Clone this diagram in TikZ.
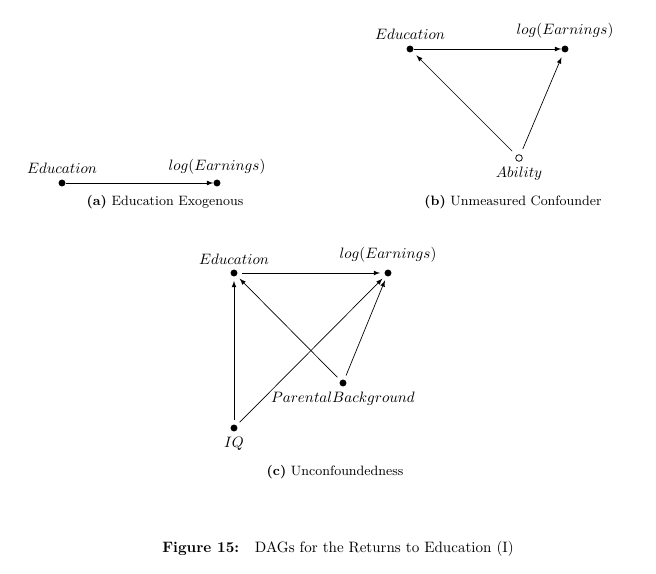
\documentclass[tikz,border=0pt]{standalone}
\usetikzlibrary{arrows}
\begin{document}
\begin{tikzpicture}[x=0.664pt,y=-0.664pt,
  dot/.style={circle,fill=black,inner sep=0pt,minimum size=4.6pt},
  odot/.style={circle,draw=black,fill=white,line width=0.5pt,inner sep=0pt,minimum size=4.4pt},
  edge/.style={-latex,line width=0.45pt},
  subcap/.style={font=\small}]
\useasboundingbox (0,0) rectangle (656,574);
% (a)
\node[dot,label={[label distance=0pt]above:$Education$}] (a1) at (62,183) {};
\node[dot,label={[label distance=0pt]above:$log(Earnings)$}] (a2) at (217,183) {};
\draw[edge] (a1) -- (a2);
\node[subcap] (capa) at (165,202) {\textbf{(a)} Education Exogenous};
% (b)
\node[dot,label={[label distance=0pt]above:$Education$}] (b1) at (410,49) {};
\node[dot,label={[label distance=1pt]above:$log(Earnings)$}] (b2) at (565,49) {};
\node[odot,label={[label distance=0pt]below:$Ability$}] (b3) at (519,158) {};
\draw[edge] (b1) -- (b2);
\draw[edge,shorten <=4pt,shorten >=3.5pt] (b3) -- (b1);
\draw[edge,shorten <=4pt,shorten >=3.5pt] (b3) -- (b2);
\node[subcap] (capb) at (513,202) {\textbf{(b)} Unmeasured Confounder};
% (c)
\node[dot,outer sep=3pt,label={[label distance=-3pt]above:$Education$}] (c1) at (234,273) {};
\node[dot,outer sep=3pt,label={[label distance=-2pt]above:$log(Earnings)$}] (c2) at (388,273) {};
\node[dot,outer sep=3pt,label={[label distance=-3pt]below:$Parental Background$}] (c3) at (343,383) {};
\node[dot,outer sep=3pt,label={[label distance=-3pt]below:$IQ$}] (c4) at (234,428) {};
\draw[edge] (c1) -- (c2);
\draw[edge] (c4) -- (c1);
\draw[edge] (c4) -- (c2);
\draw[edge] (c3) -- (c1);
\draw[edge] (c3) -- (c2);
\node[subcap] (capc) at (335,472) {\textbf{(c)} Unconfoundedness};
% figure caption
\node (fig) at (338,549) {\textbf{Figure 15:}\hspace{0.6em} DAGs for the Returns to Education (I)};
\end{tikzpicture}
\end{document}
